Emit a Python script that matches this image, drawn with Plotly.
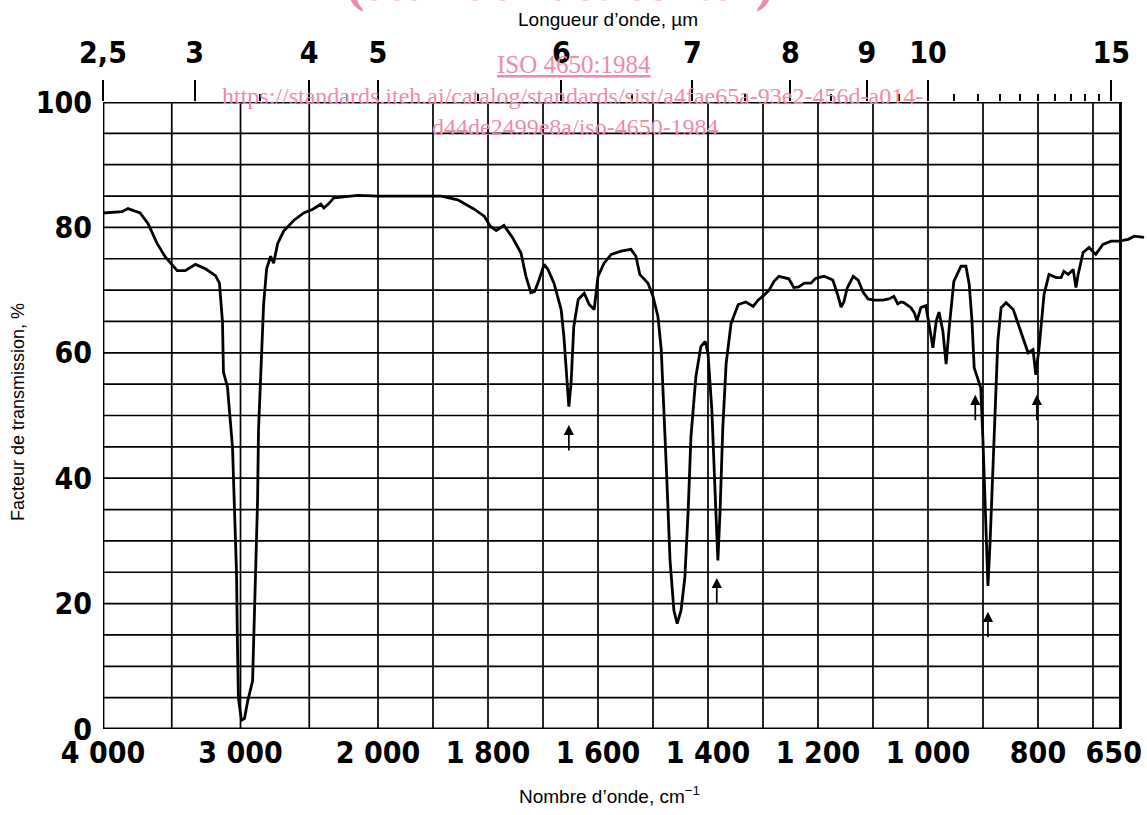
import numpy as np
import plotly.graph_objects as go

# ---- data ----
wavenumber = [4000, 3861, 3818, 3730, 3672, 3606, 3547, 3460, 3401, 3328, 3255, 3182, 3153, 3131, 3124,
              3095, 3058, 3044, 3029, 3022, 3015, 2993, 2971, 2949, 2912, 2905, 2891, 2876, 2869, 2847,
              2832, 2810, 2781, 2759, 2730, 2686, 2613, 2540, 2474, 2416, 2394, 2358, 2321, 2146, 2000,
              1885, 1855, 1825, 1807, 1796, 1785, 1771, 1755, 1740, 1731, 1722, 1715, 1707, 1698, 1691,
              1680, 1667, 1662, 1656, 1653, 1649, 1644, 1636, 1625, 1616, 1607, 1600, 1589, 1576, 1558,
              1540, 1531, 1524, 1509, 1500, 1491, 1485, 1480, 1475, 1469, 1462, 1456, 1449, 1442, 1436,
              1431, 1422, 1413, 1405, 1400, 1393, 1387, 1382, 1378, 1373, 1367, 1358, 1345, 1331, 1318,
              1309, 1298, 1289, 1280, 1271, 1253, 1244, 1235, 1225, 1213, 1204, 1189, 1173, 1164, 1158,
              1153, 1147, 1136, 1127, 1118, 1109, 1098, 1082, 1071, 1062, 1055, 1049, 1044, 1031, 1025,
              1020, 1013, 1004, 998, 991, 985, 980, 973, 967, 962, 953, 940, 931, 925, 920,
              916, 909, 904, 900, 896, 893, 891, 887, 882, 878, 873, 867, 858, 845, 836,
              827, 818, 809, 804, 798, 789, 780, 767, 758, 753, 745, 736, 731, 727, 718,
              707, 695, 682, 667, 653, 636, 625, 607]
transmission = [82.3, 82.5, 83.0, 82.3, 80.6, 77.4, 75.3, 73.1, 73.1, 74.1, 73.4, 72.3, 71.1, 64.9, 56.9,
                54.6, 44.9, 36.3, 24.9, 13.4, 4.9, 1.4, 1.7, 4.3, 7.7, 13.4, 24.9, 36.3, 47.7, 59.1,
                67.7, 73.4, 75.4, 74.3, 77.4, 79.4, 81.1, 82.3, 82.9, 83.7, 83.1, 83.8, 84.7, 85.1, 85.0,
                85.0, 84.4, 82.9, 81.8, 80.2, 79.5, 80.3, 78.3, 75.9, 72.2, 69.6, 69.8, 71.7, 74.1, 73.3,
                71.1, 66.9, 62.6, 55.1, 51.4, 55.1, 64.2, 68.5, 69.5, 67.7, 66.9, 72.2, 74.3, 75.7, 76.2,
                76.5, 75.4, 72.5, 71.1, 69.0, 65.8, 60.5, 50.9, 40.2, 26.9, 18.9, 16.8, 18.9, 24.2, 34.9,
                46.6, 56.2, 61.0, 61.8, 59.9, 50.9, 37.6, 26.9, 34.9, 48.2, 58.3, 64.7, 67.7, 68.1, 67.4,
                68.4, 69.2, 70.0, 71.4, 72.2, 71.8, 70.4, 70.5, 71.1, 71.1, 71.9, 72.2, 71.6, 69.2, 67.3,
                68.1, 70.3, 72.2, 71.6, 69.7, 68.6, 68.4, 68.4, 68.6, 69.0, 67.8, 68.1, 68.0, 67.2, 66.4,
                65.1, 67.2, 67.5, 64.5, 60.8, 65.1, 66.5, 63.5, 58.2, 63.5, 71.4, 73.8, 73.8, 70.9, 65.1,
                57.6, 55.7, 54.4, 45.9, 35.3, 27.3, 22.8, 30.0, 40.6, 51.2, 61.9, 67.2, 68.0, 66.9, 64.5,
                62.4, 60.0, 60.5, 56.5, 60.8, 69.3, 72.5, 72.0, 72.0, 73.0, 72.5, 73.3, 70.4, 72.5, 76.0,
                76.8, 75.7, 77.3, 77.8, 77.8, 78.1, 78.6, 78.4]

bottom_ticks = [4000, 3000, 2000, 1800, 1600, 1400, 1200, 1000, 800, 650]
bottom_text = ["4 000", "3 000", "2 000", "1 800", "1 600", "1 400", "1 200", "1 000", "800", "650\u2002"]
top_major_um = [2.5, 3, 4, 5, 6, 7, 8, 9, 10, 15]
top_major_text = ["2,5", "3", "4", "5", "6", "7", "8", "9", "10", "15"]
top_minor_um = [3.5, 4.5, 5.5, 6.5, 7.5, 8.5, 9.5, 10.5, 11, 11.5, 12, 12.5, 13, 13.5, 14, 14.5]
y_ticks = [0, 20, 40, 60, 80, 100]
vgrid_wn = [4000, 3500, 3000, 2500, 2000, 1900, 1800, 1700, 1600, 1500, 1400, 1300, 1200,
            1100, 1000, 900, 800, 700, 650]
hgrid_pct = list(range(0, 105, 5))
arrow_wn = [1653, 1384, 914, 891, 802]
arrow_tip = [48.5, 24.1, 53.3, 18.7, 53.3]


def to_u(w):
    """Chart abscissa: 4000-2000 cm-1 compressed 4x, 2000-650 cm-1 linear."""
    w = np.asarray(w, dtype=float)
    return np.where(w >= 2000, (4000 - w) / 4.0, 500 + (2000 - w))


U_MAX = 1898.2
U_FRAME = float(to_u(650))
BIG = "Liberation Sans Narrow, DejaVu Sans Condensed, Arial Narrow, Liberation Sans, sans-serif"
SANS = "Liberation Sans, Arial, Helvetica, sans-serif"
SERIF = "Liberation Serif, Times New Roman, serif"
PINK = "#ef8aaa"

fig = go.Figure()

fig.add_trace(go.Scatter(x=to_u(wavenumber), y=transmission, mode="lines",
                         line=dict(color="black", width=2.8), hoverinfo="skip", showlegend=False))
fig.add_trace(go.Scatter(x=[0, U_MAX], y=[None, None], xaxis="x2", mode="lines",
                         hoverinfo="skip", showlegend=False))

shapes = []
for w in vgrid_wn:
    u = float(to_u(w))
    shapes.append(dict(type="line", xref="x", yref="y", x0=u, x1=u, y0=0, y1=100,
                       line=dict(color="black", width=1.7), layer="below"))
for p in hgrid_pct:
    shapes.append(dict(type="line", xref="x", yref="y", x0=0, x1=U_FRAME, y0=p, y1=p,
                       line=dict(color="black", width=1.7), layer="below"))
shapes.append(dict(type="rect", xref="x", yref="y", x0=0, x1=U_FRAME, y0=0, y1=100,
                   line=dict(color="black", width=2.8), layer="below"))

annotations = []
for w, t in zip(arrow_wn, arrow_tip):
    annotations.append(dict(x=float(to_u(w)), y=t, xref="x", yref="y", ax=0, ay=27,
                            showarrow=True, arrowhead=2, arrowsize=1.2, arrowwidth=1.7,
                            arrowcolor="black", text=""))

W, H = 1147, 815
L, R, T, B = 103, 0, 102, 86

px_annotations = [
    dict(text="Longueur d’onde, µm", x=608, y=19,
         font=dict(family=SANS, size=19, color="black")),
    dict(text="Nombre d’onde, cm<sup>−1</sup>", x=609, y=795,
         font=dict(family=SANS, size=19, color="black")),
    dict(text="Facteur de transmission, %", x=18, y=412, textangle=-90,
         font=dict(family=SANS, size=18, color="black")),
    dict(text="<b>(standards.iteh.ai)</b>", x=560, y=-18,
         font=dict(family=SERIF, size=55, color=PINK)),
    dict(text="<u>ISO 4650:1984</u>", x=574, y=64,
         font=dict(family=SERIF, size=25, color=PINK)),
    dict(text="https://standards.iteh.ai/catalog/standards/sist/a4fae65a-93e2-456d-a014-",
         x=572, y=96, font=dict(family=SERIF, size=24, color=PINK)),
    dict(text="d44de2499e8a/iso-4650-1984", x=575, y=127,
         font=dict(family=SERIF, size=24, color=PINK)),
]
# pixel positions (from the top-left corner) -> paper fractions
for a in px_annotations:
    a["x"] = (a["x"] - L) / (W - L - R)
    a["y"] = ((H - a["y"]) - B) / (H - T - B)
    a.update(xref="paper", yref="paper", xanchor="center", yanchor="middle", showarrow=False)
annotations += px_annotations

TICKFONT = dict(family=BIG, size=30, color="black", weight="bold")

fig.update_layout(
    width=W, height=H,
    margin=dict(l=L, r=R, t=T, b=B, autoexpand=False),
    paper_bgcolor="white", plot_bgcolor="white",
    showlegend=False,
    xaxis=dict(range=[0, U_MAX], tickvals=to_u(bottom_ticks).tolist(), ticktext=bottom_text,
               showgrid=False, zeroline=False, showline=False, ticks="",
               automargin=False, ticklabeloverflow="allow",
               ticklabelstandoff=3, tickfont=TICKFONT),
    xaxis2=dict(range=[0, U_MAX], overlaying="x", side="top", anchor="y",
                tickvals=to_u(10000 / np.array(top_major_um)).tolist(), ticktext=top_major_text,
                ticks="outside", ticklen=21, tickwidth=2, tickcolor="black",
                minor=dict(tickvals=to_u(10000 / np.array(top_minor_um)).tolist(),
                           ticks="outside", ticklen=7, tickwidth=2, tickcolor="black"),
                ticklabelstandoff=5, automargin=False, ticklabeloverflow="allow",
                showgrid=False, zeroline=False, showline=False, tickfont=TICKFONT),
    yaxis=dict(range=[0, 100], tickvals=y_ticks, ticktext=[str(v) for v in y_ticks],
               showgrid=False, zeroline=False, showline=False, ticks="",
               automargin=False, ticklabelstandoff=10, tickfont=TICKFONT),
    shapes=shapes,
    annotations=annotations,
)

fig.write_html("out.html", config={"displayModeBar": False},
               post_script="document.body.style.margin='0px';")
